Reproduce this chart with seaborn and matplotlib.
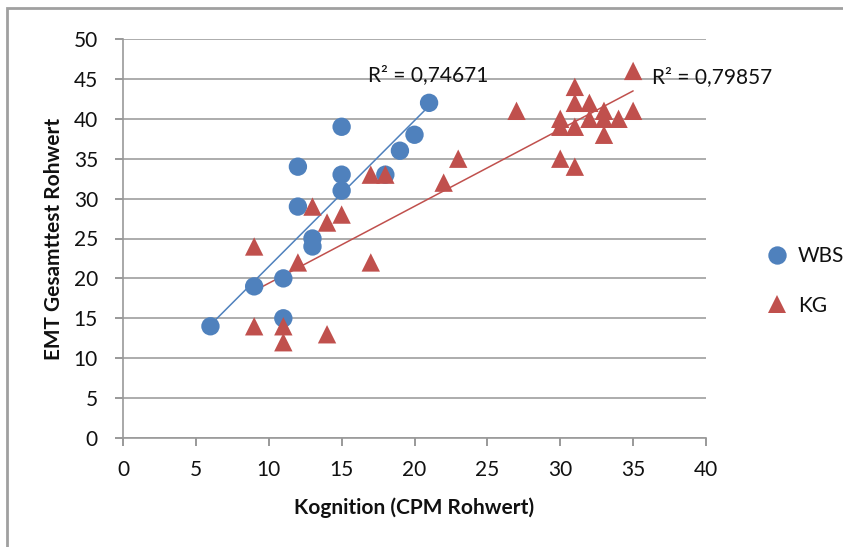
import numpy as np
import pandas as pd
import matplotlib
matplotlib.use("Agg")
import matplotlib.pyplot as plt
from matplotlib.patches import Rectangle
import seaborn as sns

# ---- data ----
wbs_x = [6, 9, 11, 11, 12, 12, 13, 13, 15, 15, 15, 18, 19, 20, 21]
wbs_y = [14, 19, 20, 15, 34, 29, 25, 24, 39, 33, 31, 33, 36, 38, 42]

kg_x = [9, 9, 11, 11, 12, 13, 14, 15, 14, 17, 18, 17, 22, 23,
        27, 35, 31, 31, 32, 30, 30, 31, 32, 33, 33, 34, 35, 33, 30, 31]
kg_y = [24, 14, 14, 12, 22, 29, 27, 28, 13, 33, 33, 22, 32, 35,
        41, 46, 44, 42, 42, 40, 39, 39, 40, 41, 40, 40, 41, 38, 35, 34]

groups = ["WBS", "KG"]
r2_labels = ["R² = 0,74671", "R² = 0,79857"]
x_ticks = list(range(0, 41, 5))
y_ticks = list(range(0, 51, 5))
x_label = "Kognition (CPM Rohwert)"
y_label = "EMT Gesamttest Rohwert"

colors = {"WBS": "#4F81BD", "KG": "#C0504D"}
markers = {"WBS": "o", "KG": "^"}

df = pd.DataFrame({
    "x": wbs_x + kg_x,
    "y": wbs_y + kg_y,
    "group": ["WBS"] * len(wbs_x) + ["KG"] * len(kg_x),
})

sns.set_theme(style="white")
plt.rcParams["font.family"] = ["Lato", "DejaVu Sans"]

FS = 15
W, H = 843, 547
fig = plt.figure(figsize=(W / 100, H / 100), dpi=100)
ax = fig.add_axes([123 / W, 1 - 438 / H, (706 - 123) / W, (438 - 39) / H])

# trend lines
for g in groups:
    sub = df[df.group == g]
    sns.regplot(data=sub, x="x", y="y", ax=ax, scatter=False, ci=None,
                truncate=True, color=colors[g], line_kws={"lw": 1.1, "zorder": 3})

sns.scatterplot(data=df, x="x", y="y", hue="group", style="group",
                palette=colors, markers=markers, s=175, linewidth=0,
                ax=ax, zorder=4, hue_order=groups, style_order=groups)

ax.set_xlim(0, 40)
ax.set_ylim(0, 50)
ax.set_xticks(x_ticks)
ax.set_yticks(y_ticks)
ax.tick_params(axis="both", labelsize=FS, colors="#888888", labelcolor="#111111",
               length=6, width=1.2, direction="out", left=True, bottom=True)
ax.tick_params(axis="y", pad=12)
ax.tick_params(axis="x", pad=10)
ax.yaxis.grid(True, color="#a6a6a6", lw=1.3)
ax.xaxis.grid(False)
ax.set_axisbelow(True)
for s in ["top", "right"]:
    ax.spines[s].set_visible(False)
for s in ["left", "bottom"]:
    ax.spines[s].set_color("#999999")
    ax.spines[s].set_linewidth(1.2)

ax.set_xlabel(x_label, fontsize=FS, fontweight="bold", color="#111111")
ax.set_ylabel(y_label, fontsize=FS, fontweight="bold", color="#111111")
ax.xaxis.set_label_coords(0.5, (438 - 497) / 399)
ax.yaxis.set_label_coords((64 - 123) / 583, 0.5)

# R² labels
ax.text(16.8, 45.5, r2_labels[0], fontsize=FS, color="#111111", va="center", ha="left", zorder=5)
ax.text(36.3, 45.2, r2_labels[1], fontsize=FS, color="#111111", va="center", ha="left",
        zorder=5, clip_on=False)

# legend
handles, labels = ax.get_legend_handles_labels()
leg = ax.legend(handles, labels, loc="center left", bbox_to_anchor=(748 / W, 1 - 281 / H),
                bbox_transform=fig.transFigure, frameon=False, fontsize=FS,
                handletextpad=0.0, labelspacing=1.4, markerscale=1.0, borderaxespad=0)
for t in leg.get_texts():
    t.set_color("#111111")

# outer chart border (top and left edges visible)
fig.patches.append(Rectangle((7 / W, -0.2), 1.2, 1.2 - 8 / H,
                             transform=fig.transFigure, fill=False,
                             edgecolor="#a0a0a0", lw=2, zorder=0))

fig.savefig("out.png", dpi=100)
